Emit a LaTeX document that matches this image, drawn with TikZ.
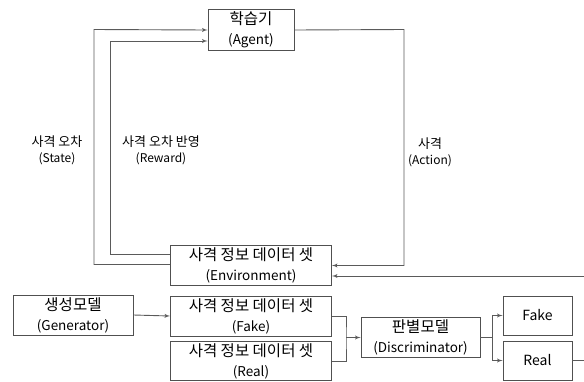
\documentclass[tikz,border=0pt]{standalone}
\usepackage{fontspec}
\setmainfont{Noto Sans CJK KR}
\usepackage{xcolor}
\usepackage{tikz}
\usetikzlibrary{shapes,arrows}
\definecolor{boxgray}{HTML}{505050}
\definecolor{linegray}{HTML}{5A5A5A}
\newcommand{\kbox}[1]{{\fontsize{15.5}{20}\selectfont #1}}
\newcommand{\ktag}[1]{{\fontsize{13}{16}\selectfont #1}}
\tikzstyle{block} = [rectangle, draw=boxgray, line width=0.9pt, fill=white, inner sep=0pt, align=center, minimum height=40pt, font=\fontsize{13.5}{20}\selectfont]
\tikzstyle{tag} = [inner sep=0pt, align=center, font=\fontsize{12}{16}\selectfont]
\tikzstyle{line} = [draw=linegray, line width=0.9pt, -latex']
\tikzstyle{wire} = [draw=linegray, line width=0.9pt]

\begin{document}
\begin{tikzpicture}[x=1pt,y=-1pt]
\useasboundingbox (0,0) rectangle (584,381);
% reinforcement loop
\node [block, minimum width=86pt, minimum height=41pt] (agent) at (251,30) {\kbox{학습기}\\(Agent)};
\node [block, minimum width=161pt] (env) at (251,265.5) {\kbox{사격 정보 데이터 셋}\\(Environment)};
\coordinate (sL) at (94,29.5);
\coordinate (rL) at (110,41);
\coordinate (aR) at (404,29.5);
\path [line] ([yshift=1pt]env.west) -| (sL) -- (agent.west);
\path [line] ([yshift=11pt]env.west) -| (rL) -- ([yshift=-11pt]agent.west);
\path [line] (agent.east) -- (aR) |- (env.east);
\node [tag] (state) at (57,150) {\ktag{사격 오차}\\(State)};
\node [tag] (reward) at (161,150) {\ktag{사격 오차 반영}\\(Reward)};
\node [tag] (action) at (430,152) {\ktag{사격}\\(Action)};

% generator / discriminator
\node [block, minimum width=120pt] (gen) at (73,315) {\kbox{생성모델}\\(Generator)};
\node [block, minimum width=161pt] (fakedata) at (251,316) {\kbox{사격 정보 데이터 셋}\\(Fake)};
\node [block, minimum width=161pt, minimum height=39pt] (realdata) at (251,361) {\kbox{사격 정보 데이터 셋}\\(Real)};
\node [block, minimum width=119pt] (disc) at (420.5,337.5) {\kbox{판별모델}\\(Discriminator)};
\node [block, minimum width=69pt, minimum height=39pt, font=\fontsize{14}{20}\selectfont] (fakeres) at (537.5,315.5) {Fake};
\node [block, minimum width=69pt, minimum height=39pt, font=\fontsize{14}{20}\selectfont] (realres) at (537.5,360.5) {Real};
\path [line] (gen.east) -- (fakedata.west);
\coordinate (mg) at (346,337.5);
\path [wire] (fakedata.east) -| (mg) |- (realdata.east);
\path [line] (mg) -- (disc.west);
\coordinate (sp) at (492,337.5);
\path [wire] (disc.east) -- (sp);
\path [line] (sp) |- (fakeres.west);
\path [line] (sp) |- (realres.west);
\coordinate (rb) at (600,360.5);
\path [line] (realres.east) -- (rb) |- ([yshift=-10.5pt]env.east);
\end{tikzpicture}
\end{document}
